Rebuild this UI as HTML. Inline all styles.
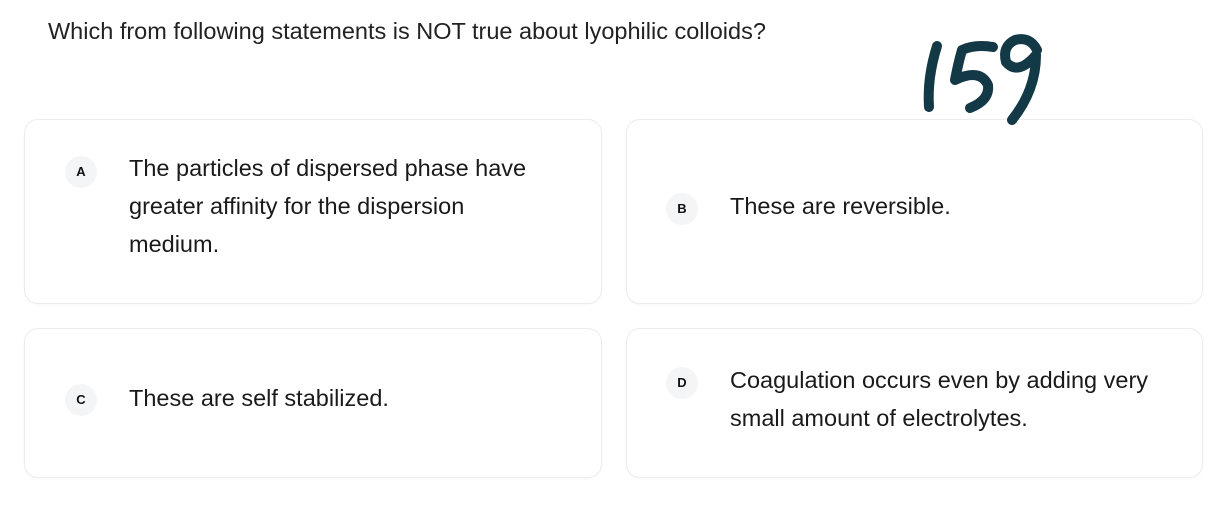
<!DOCTYPE html>
<html><head><meta charset="utf-8"><style>
body{margin:0;width:1224px;height:510px;background:#fff;font-family:"Liberation Sans",Arial,sans-serif;color:#1a1a1a;position:relative;overflow:hidden}
.q{position:absolute;left:48px;top:18px;font-size:23.5px;color:#222}
.card{position:absolute;border:1px solid #ececec;border-radius:14px;background:#fff;box-shadow:0 1px 2px rgba(0,0,0,0.03)}
.badge{position:absolute;width:32px;height:32px;border-radius:50%;background:#f4f5f7;font-size:13px;font-weight:bold;text-align:center;line-height:32px;color:#111}
.txt{position:absolute;font-size:23.5px;line-height:38px;color:#1a1a1a}
</style></head><body>
<div class="q">Which from following statements is NOT true about lyophilic colloids?</div>

<div class="card" style="left:24px;top:119px;width:576px;height:183px"></div>
<div class="badge" style="left:65px;top:156px">A</div>
<div class="txt" style="left:129px;top:149px">The particles of dispersed phase have<br>greater affinity for the dispersion<br>medium.</div>

<div class="card" style="left:626px;top:119px;width:575px;height:183px"></div>
<div class="badge" style="left:666px;top:193px">B</div>
<div class="txt" style="left:730px;top:187px">These are reversible.</div>

<div class="card" style="left:24px;top:328px;width:576px;height:148px"></div>
<div class="badge" style="left:65px;top:384px">C</div>
<div class="txt" style="left:129px;top:379px">These are self stabilized.</div>

<div class="card" style="left:626px;top:328px;width:575px;height:148px"></div>
<div class="badge" style="left:666px;top:367px">D</div>
<div class="txt" style="left:730px;top:361px">Coagulation occurs even by adding very<br>small amount of electrolytes.</div>

<svg style="position:absolute;left:0;top:0;z-index:5" width="1224" height="510" aria-label="159">
<g fill="none" stroke="#133846" stroke-width="10" stroke-linecap="round" stroke-linejoin="round">
<path d="M937 46 Q927 78 929 107"/>
<path d="M993 47 Q975 44 962 50 Q958 64 955 80 Q980 68 988 85 Q990 100 970 108"/>
<path d="M1037 50 Q1030 36 1015 40 Q1002 46 1006 62 Q1018 76 1036 55 Q1036 90 1012 120"/>
</g></svg>
</body></html>
